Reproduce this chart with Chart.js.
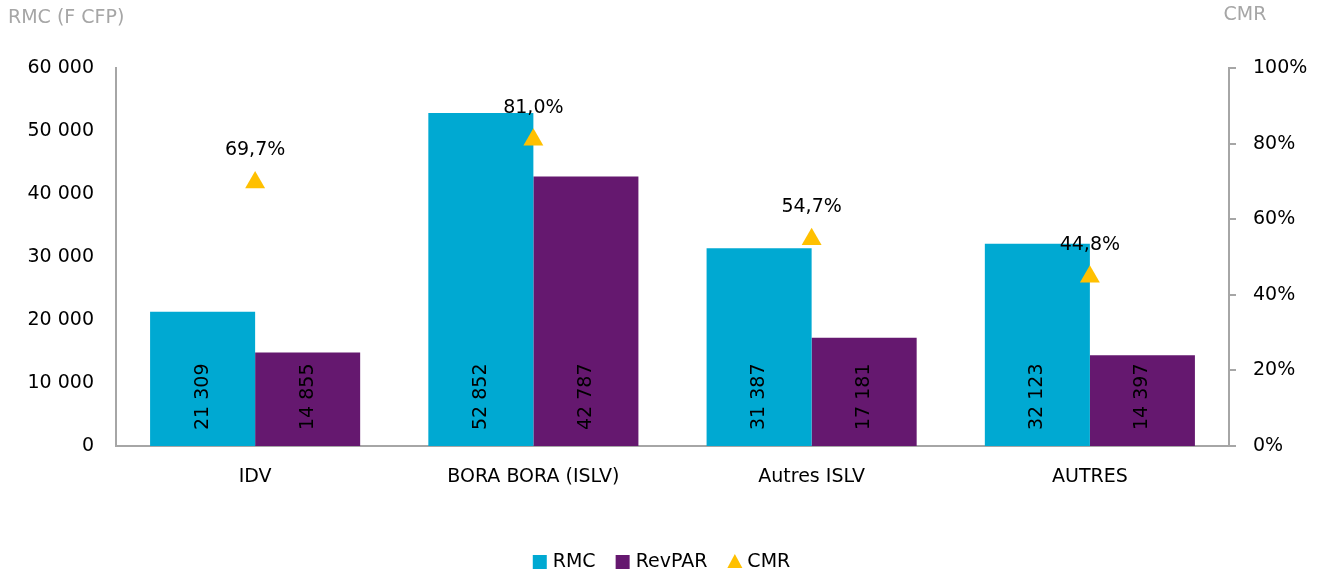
<!DOCTYPE html>
<html>
<head>
<meta charset="utf-8">
<script src="https://cdn.jsdelivr.net/npm/chart.js@4.4.1/dist/chart.umd.min.js"></script>
<style>
  html, body { margin: 0; padding: 0; background: #fff; }
  #wrap { width: 1323px; height: 577px; }
</style>
</head>
<body>
<div id="wrap"><canvas id="chart"></canvas></div>
<script>
"use strict";

const categories = ['IDV', 'BORA BORA (ISLV)', 'Autres ISLV', 'AUTRES'];
const rmcValues = [21309, 52852, 31387, 32123];
const revparValues = [14855, 42787, 17181, 14397];
const cmrValues = [69.7, 81.0, 54.7, 44.8];

const fontFamily = '"DejaVu Sans", sans-serif';
const axisGrey = '#A6A6A6';

const formatThousands = (value) => String(Math.round(value)).replace(/\B(?=(\d{3})+(?!\d))/g, ' ');
const formatPercent = (value) => `${value.toFixed(1).replace('.', ',')}%`;

const drawMarker = (ctx, style, color, x, y) => {
  ctx.fillStyle = color;
  if (style === 'triangle') {
    ctx.beginPath();
    ctx.moveTo(x + 7.5, y - 8);
    ctx.lineTo(x + 15, y + 6);
    ctx.lineTo(x, y + 6);
    ctx.closePath();
    ctx.fill();
  } else {
    ctx.fillRect(x, y - 7, 14, 14);
  }
};

const labelsPlugin = {
  id: 'labelsPlugin',
  afterDatasetsDraw: (chart) => {
    const ctx = chart.ctx;
    ctx.save();
    ctx.fillStyle = '#000';
    ctx.font = `19px ${fontFamily}`;

    [0, 1].forEach((datasetIndex) => {
      const meta = chart.getDatasetMeta(datasetIndex);
      const values = chart.data.datasets[datasetIndex].data;
      meta.data.forEach((bar, i) => {
        ctx.save();
        ctx.translate(bar.x, bar.base - 16);
        ctx.rotate(-Math.PI / 2);
        ctx.textAlign = 'left';
        ctx.textBaseline = 'middle';
        ctx.fillText(formatThousands(values[i]), 0, 0);
        ctx.restore();
      });
    });

    const lineMeta = chart.getDatasetMeta(2);
    lineMeta.data.forEach((point, i) => {
      ctx.textAlign = 'center';
      ctx.textBaseline = 'middle';
      ctx.fillText(formatPercent(cmrValues[i]), point.x, point.y - 32);
    });
    ctx.restore();
  },
  afterDraw: (chart) => {
    const ctx = chart.ctx;
    ctx.save();
    ctx.fillStyle = axisGrey;
    ctx.font = `19px ${fontFamily}`;
    ctx.textBaseline = 'middle';
    ctx.textAlign = 'left';
    ctx.fillText('RMC (F CFP)', 8, 18);
    ctx.textAlign = 'center';
    ctx.fillText('CMR', 1245, 15);

    // legend
    ctx.font = `19px ${fontFamily}`;
    ctx.textBaseline = 'middle';
    ctx.textAlign = 'left';
    const items = chart.data.datasets.map((ds) => ({
      label: ds.label,
      color: ds.backgroundColor,
      style: ds.pointStyle,
    }));
    const markerW = 15;
    const gapText = 5;
    const gapItem = 20;
    const widths = items.map((item) => markerW + gapText + ctx.measureText(item.label).width);
    const total = widths.reduce((a, b) => a + b, 0) + gapItem * (items.length - 1);
    let x = (chart.width - total) / 2;
    const y = 562;
    items.forEach((item, i) => {
      drawMarker(ctx, item.style, item.color, x, y);
      ctx.fillStyle = '#000';
      ctx.fillText(item.label, x + markerW + gapText, y);
      x += widths[i] + gapItem;
    });
    ctx.restore();
  },
};

new Chart(document.getElementById('chart'), {
  type: 'bar',
  data: {
    labels: categories,
    datasets: [{
      label: 'RMC',
      data: rmcValues,
      backgroundColor: '#00A9D2',
      yAxisID: 'y',
      order: 1,
      pointStyle: 'rect',
      categoryPercentage: 0.755,
      barPercentage: 1,
    }, {
      label: 'RevPAR',
      data: revparValues,
      backgroundColor: '#65186F',
      yAxisID: 'y',
      order: 1,
      pointStyle: 'rect',
      categoryPercentage: 0.755,
      barPercentage: 1,
    }, {
      type: 'line',
      label: 'CMR',
      data: cmrValues,
      yAxisID: 'y1',
      order: 0,
      showLine: false,
      pointStyle: 'triangle',
      pointRadius: 11.5,
      pointHoverRadius: 11.5,
      backgroundColor: '#FFC000',
      borderColor: '#FFC000',
      borderWidth: 0,
    }],
  },
  options: {
    responsive: true,
    maintainAspectRatio: false,
    animation: false,
    layout: {
      padding: { top: 68, left: 0, right: 0, bottom: 0 },
    },
    scales: {
      x: {
        grid: { display: false, drawTicks: false },
        border: { color: axisGrey, width: 2 },
        ticks: {
          color: '#000',
          font: { family: fontFamily, size: 19 },
          padding: 20,
        },
        afterFit: (scale) => { scale.height = 131; },
      },
      y: {
        position: 'left',
        min: 0,
        max: 60000,
        grid: { display: false, drawTicks: false },
        border: { color: axisGrey, width: 2 },
        ticks: {
          stepSize: 10000,
          color: '#000',
          font: { family: fontFamily, size: 19 },
          padding: 22,
          callback: (value) => formatThousands(value),
        },
        afterFit: (scale) => { scale.width = 116; },
      },
      y1: {
        position: 'right',
        min: 0,
        max: 100,
        grid: { display: true, drawOnChartArea: false, drawTicks: true, tickLength: 7, color: axisGrey, lineWidth: 2 },
        border: { color: axisGrey, width: 2 },
        ticks: {
          stepSize: 20,
          color: '#000',
          font: { family: fontFamily, size: 19 },
          padding: 17,
          callback: (value) => `${value}%`,
        },
        afterFit: (scale) => { scale.width = 94; },
      },
    },
    plugins: {
      legend: { display: false },
      tooltip: { enabled: false },
    },
  },
  plugins: [labelsPlugin],
});
</script>
</body>
</html>
